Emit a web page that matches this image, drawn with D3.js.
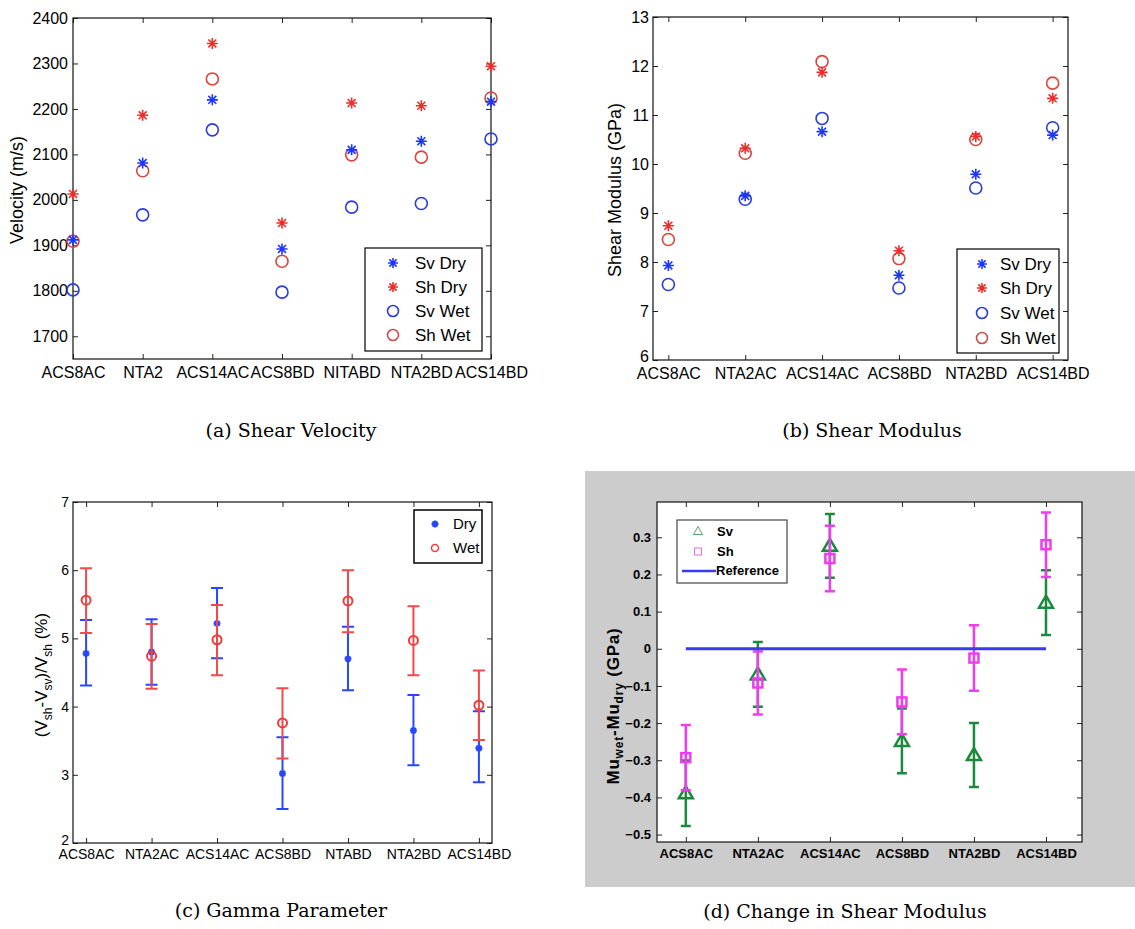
<!DOCTYPE html>
<html>
<head>
<meta charset="utf-8">
<script src="https://cdn.jsdelivr.net/npm/d3@7"></script>
<style>
body { margin: 0; background: #fff; }
</style>
</head>
<body>
<div class="displayArea"></div>
<script>
const width = 1135, height = 929;

// (a) shear velocity (m/s)
var velSamples = ["ACS8AC", "NTA2", "ACS14AC", "ACS8BD", "NITABD", "NTA2BD", "ACS14BD"];
var velSvDry = [1912, 2081, 2220, 1892, 2110, 2129, 2216];
var velShDry = [2013, 2186, 2344, 1949, 2213, 2207, 2294];
var velSvWet = [1802, 1967, 2154, 1797, 1984, 1992, 2134];
var velShWet = [1909, 2064, 2266, 1865, 2099, 2094, 2224];
var velTicks = [1700, 1800, 1900, 2000, 2100, 2200, 2300, 2400];

// (b) shear modulus (GPa)
var modSamples = ["ACS8AC", "NTA2AC", "ACS14AC", "ACS8BD", "NTA2BD", "ACS14BD"];
var modSvDry = [7.93, 9.35, 10.66, 7.73, 9.79, 10.59];
var modShDry = [8.74, 10.32, 11.87, 8.23, 10.56, 11.34];
var modSvWet = [7.54, 9.28, 10.93, 7.47, 9.51, 10.74];
var modShWet = [8.46, 10.22, 12.09, 8.07, 10.50, 11.65];
var modTicks = [6, 7, 8, 9, 10, 11, 12, 13];

// (c) gamma parameter (%)
var gamSamples = ["ACS8AC", "NTA2AC", "ACS14AC", "ACS8BD", "NTABD", "NTA2BD", "ACS14BD"];
var gamDry = [4.78, 4.80, 5.22, 3.02, 4.70, 3.65, 3.39];
var gamDryLo = [4.31, 4.32, 4.71, 2.50, 4.24, 3.14, 2.89];
var gamDryHi = [5.27, 5.28, 5.74, 3.55, 5.17, 4.17, 3.93];
var gamWet = [5.56, 4.74, 4.98, 3.76, 5.55, 4.97, 4.02];
var gamWetLo = [5.08, 4.26, 4.46, 3.24, 5.09, 4.46, 3.51];
var gamWetHi = [6.03, 5.21, 5.49, 4.27, 6.00, 5.47, 4.53];
var gamTicks = [2, 3, 4, 5, 6, 7];

// (d) change in shear modulus (GPa)
var chgSamples = ["ACS8AC", "NTA2AC", "ACS14AC", "ACS8BD", "NTA2BD", "ACS14BD"];
var chgSv = [-0.389, -0.069, 0.277, -0.248, -0.286, 0.124];
var chgSvErr = [0.088, 0.087, 0.086, 0.087, 0.086, 0.087];
var chgSh = [-0.293, -0.092, 0.243, -0.143, -0.025, 0.280];
var chgShErr = [0.088, 0.085, 0.088, 0.087, 0.088, 0.087];
var chgTicks = [-0.5, -0.4, -0.3, -0.2, -0.1, 0, 0.1, 0.2, 0.3];

var sans = "Liberation Sans, Arial, sans-serif";

var svg = d3.select(".displayArea")
    .append("svg")
    .attr("width", width)
    .attr("height", height)
    .style("display", "block");

// matlab style '*' marker
function starPath(r) {
    var a = r * 0.72;
    return `M${-r},0L${r},0M0,${-r}L0,${r}M${-a},${-a}L${a},${a}M${-a},${a}L${a},${-a}`;
}

// box with inward ticks on all four sides
function frame(g, x, y, xVals, xFmt, yVals, yFmt, o) {
    var [x0, x1] = x.range(), [y0, y1] = y.range();
    g.append("rect")
        .attr("x", x0).attr("y", y1)
        .attr("width", x1 - x0).attr("height", y0 - y1)
        .attr("fill", "#fff");

    var axes = [
        [d3.axisBottom(x).tickValues(xVals).tickFormat(xFmt).tickPadding(o.xPad), `translate(0,${y0})`],
        [d3.axisTop(x).tickValues(xVals).tickFormat(""), `translate(0,${y1})`],
        [d3.axisLeft(y).tickValues(yVals).tickFormat(yFmt).tickPadding(o.yPad), `translate(${x0},0)`],
        [d3.axisRight(y).tickValues(yVals).tickFormat(""), `translate(${x1},0)`]
    ];
    axes.forEach(function (a, k) {
        var ax = g.append("g")
            .attr("transform", a[1])
            .call(a[0].tickSize(-o.tick).tickSizeOuter(0));
        ax.select(".domain").remove();
        ax.selectAll("line").attr("stroke", "#222");
        ax.selectAll("text")
            .attr("fill", "#000")
            .style("font-family", sans)
            .style("font-size", o.font + "px")
            .style("font-weight", o.bold ? "bold" : "normal");
        // lowest y label sits just above the corner so it clears the x labels
        if (k == 2 && o.liftLow) ax.selectAll("text").filter(d => d == yVals[0]).attr("dy", "0.1em");
    });

    g.append("rect")
        .attr("x", x0).attr("y", y1)
        .attr("width", x1 - x0).attr("height", y0 - y1)
        .attr("fill", "none")
        .attr("stroke", "#111")
        .attr("stroke-width", 1.2);
}

function caption(txt, cx, cy) {
    svg.append("text")
        .attr("x", cx).attr("y", cy)
        .attr("text-anchor", "middle")
        .style("font-family", "DejaVu Serif, serif")
        .style("font-size", "19px")
        .text(txt);
}

function yTitle(g, cx, cy, font, bold) {
    return g.append("text")
        .attr("transform", `translate(${cx},${cy}) rotate(-90)`)
        .attr("text-anchor", "middle")
        .style("font-family", sans)
        .style("font-size", font + "px")
        .style("font-weight", bold ? "bold" : "normal");
}

// scatter for panels a and b
function scatterPanel(g, x, y, svDry, shDry, svWet, shWet) {
    var sets = [
        [svWet, "circle", "#2a3cd6"],
        [shWet, "circle", "#d9443c"],
        [svDry, "star", "#1b35ff"],
        [shDry, "star", "#ea2e2a"]
    ];
    sets.forEach(function (s) {
        var sel = g.append("g").selectAll("path")
            .data(s[0])
            .enter()
            .append("path")
            .attr("transform", (d, i) => `translate(${x(i)},${y(d)})`)
            .attr("fill", "none")
            .attr("stroke", s[2]);
        if (s[1] == "star") sel.attr("d", starPath(5.5)).attr("stroke-width", 1.6);
        else sel.attr("d", d3.symbol(d3.symbolCircle, Math.PI * 36)).attr("stroke-width", 1.6);
    });
}

function scatterLegend(g, bx, by, bw, bh, rows, mx, tx) {
    g.append("rect")
        .attr("x", bx).attr("y", by).attr("width", bw).attr("height", bh)
        .attr("fill", "#fff").attr("stroke", "#000").attr("stroke-width", 1.2);
    var items = [
        ["Sv Dry", "star", "#1b35ff"],
        ["Sh Dry", "star", "#ea2e2a"],
        ["Sv Wet", "circle", "#2a3cd6"],
        ["Sh Wet", "circle", "#c9504a"]
    ];
    items.forEach(function (it, i) {
        var m = g.append("path")
            .attr("transform", `translate(${mx},${rows[i]})`)
            .attr("fill", "none")
            .attr("stroke", it[2])
            .attr("stroke-width", 1.6);
        if (it[1] == "star") m.attr("d", starPath(5));
        else m.attr("d", d3.symbol(d3.symbolCircle, Math.PI * 30));
        g.append("text")
            .attr("x", tx).attr("y", rows[i] + 6)
            .style("font-family", sans)
            .style("font-size", "17px")
            .text(it[0]);
    });
}

// ---------- (a) ----------
var ga = svg.append("g");
var xA = d3.scaleLinear().domain([0, 6]).range([73, 491]);
var yA = d3.scaleLinear().domain([1650, 2400]).range([359, 18]);
frame(ga, xA, yA, d3.range(velSamples.length), i => velSamples[i], velTicks, d3.format("d"),
    { tick: 5, xPad: 7.5, yPad: 5, font: 16 });
scatterPanel(ga, xA, yA, velSvDry, velShDry, velSvWet, velShWet);
scatterLegend(ga, 365, 248, 117, 103, [263, 287, 311, 335], 393, 415);
yTitle(ga, 23, 190, 18).text("Velocity (m/s)");
caption("(a) Shear Velocity", 291, 437);

// ---------- (b) ----------
var gb = svg.append("g");
var xB = d3.scaleLinear().domain([-0.2, 5.2]).range([653, 1068]);
var yB = d3.scaleLinear().domain([6, 13]).range([360, 17]);
frame(gb, xB, yB, d3.range(modSamples.length), i => modSamples[i], modTicks, d3.format("d"),
    { tick: 5, xPad: 7.5, yPad: 4, font: 16, liftLow: true });
scatterPanel(gb, xB, yB, modSvDry, modShDry, modSvWet, modShWet);
scatterLegend(gb, 957, 249, 102, 104, [264, 288, 313, 338], 982, 1000);
yTitle(gb, 621, 190, 18).text("Shear Modulus (GPa)");
caption("(b) Shear Modulus", 872, 437);

// ---------- (c) ----------
var gc = svg.append("g");
var xC = d3.scaleLinear().domain([-0.2, 6.2]).range([73, 492]);
var yC = d3.scaleLinear().domain([2, 7]).range([843, 502]);
frame(gc, xC, yC, d3.range(gamSamples.length), i => gamSamples[i], gamTicks, d3.format("d"),
    { tick: 5, xPad: 6, yPad: 4, font: 14, liftLow: true });

function errBars(g, x, y, lo, hi, color, cap, lw) {
    var eb = g.append("g").attr("stroke", color).attr("stroke-width", lw).attr("fill", "none");
    eb.selectAll("path")
        .data(lo)
        .enter()
        .append("path")
        .attr("d", function (d, i) {
            var cx = x(i), ya = y(d), yb = y(hi[i]);
            return `M${cx},${ya}L${cx},${yb}M${cx - cap},${ya}L${cx + cap},${ya}M${cx - cap},${yb}L${cx + cap},${yb}`;
        });
}

errBars(gc, xC, yC, gamDryLo, gamDryHi, "#2747ff", 6, 2);
gc.append("g").selectAll("path")
    .data(gamDry)
    .enter()
    .append("path")
    .attr("transform", (d, i) => `translate(${xC(i)},${yC(d)})`)
    .attr("d", starPath(3.5))
    .attr("stroke", "#2747ff")
    .attr("stroke-width", 2);
errBars(gc, xC, yC, gamWetLo, gamWetHi, "#f24a4a", 6, 2);
gc.append("g").selectAll("circle")
    .data(gamWet)
    .enter()
    .append("circle")
    .attr("cx", (d, i) => xC(i))
    .attr("cy", d => yC(d))
    .attr("r", 4.5)
    .attr("fill", "none")
    .attr("stroke", "#ee3b3b")
    .attr("stroke-width", 2);

gc.append("rect")
    .attr("x", 414).attr("y", 510).attr("width", 68).attr("height", 53)
    .attr("fill", "#fff").attr("stroke", "#000").attr("stroke-width", 1.5);
gc.append("path")
    .attr("transform", "translate(435,524)")
    .attr("d", starPath(3.5))
    .attr("stroke", "#2747ff").attr("stroke-width", 2);
gc.append("circle")
    .attr("cx", 435).attr("cy", 548).attr("r", 3.5)
    .attr("fill", "none").attr("stroke", "#ee3b3b").attr("stroke-width", 1.5);
["Dry", "Wet"].forEach(function (t, i) {
    gc.append("text")
        .attr("x", 453).attr("y", 529 + i * 24)
        .style("font-family", sans)
        .style("font-size", "15px")
        .text(t);
});

var tc = yTitle(gc, 47, 675, 17);
tc.append("tspan").text("(V");
tc.append("tspan").attr("dy", 5).style("font-size", "12px").text("sh");
tc.append("tspan").attr("dy", -5).text("-V");
tc.append("tspan").attr("dy", 5).style("font-size", "12px").text("sv");
tc.append("tspan").attr("dy", -5).text(")/V");
tc.append("tspan").attr("dy", 5).style("font-size", "12px").text("sh");
tc.append("tspan").attr("dy", -5).text(" (%)");
caption("(c) Gamma Parameter", 281, 917);

// ---------- (d) ----------
svg.append("rect")
    .attr("x", 585).attr("y", 471)
    .attr("width", width - 585).attr("height", 416)
    .attr("fill", "#cccccc");

var gd = svg.append("g");
var xD = d3.scaleLinear().domain([0.6, 6.5]).range([657, 1082]);
var yD = d3.scaleLinear().domain([-0.52, 0.395]).range([842, 502]);
frame(gd, xD, yD, d3.range(1, chgSamples.length + 1), i => chgSamples[i - 1], chgTicks, d => d3.format("")(+d.toFixed(1)),
    { tick: 5, xPad: 7, yPad: 6, font: 13, bold: true });

var green = "#1c8a3c", magenta = "#f03cf0";
var svLo = chgSv.map((d, i) => d - chgSvErr[i]), svHi = chgSv.map((d, i) => d + chgSvErr[i]);
var shLo = chgSh.map((d, i) => d - chgShErr[i]), shHi = chgSh.map((d, i) => d + chgShErr[i]);
var xD1 = i => xD(i + 1);

errBars(gd, xD1, yD, svLo, svHi, green, 5, 2.5);
gd.append("g").selectAll("path")
    .data(chgSv)
    .enter()
    .append("path")
    .attr("transform", (d, i) => `translate(${xD1(i)},${yD(d)})`)
    .attr("d", "M0,-7L7,5L-7,5Z")
    .attr("fill", "none")
    .attr("stroke", green)
    .attr("stroke-width", 2.5);

errBars(gd, xD1, yD, shLo, shHi, magenta, 5, 2.5);
gd.append("g").selectAll("rect")
    .data(chgSh)
    .enter()
    .append("rect")
    .attr("x", (d, i) => xD1(i) - 4.5)
    .attr("y", d => yD(d) - 4.5)
    .attr("width", 9).attr("height", 9)
    .attr("fill", "none")
    .attr("stroke", magenta)
    .attr("stroke-width", 2.5);

// zero reference line
gd.append("line")
    .attr("x1", xD1(0)).attr("x2", xD1(chgSamples.length - 1))
    .attr("y1", yD(0)).attr("y2", yD(0))
    .attr("stroke", "#3a3af0")
    .attr("stroke-width", 3);

gd.append("rect")
    .attr("x", 677).attr("y", 520).attr("width", 110).attr("height", 63)
    .attr("fill", "#fff").attr("stroke", "#444").attr("stroke-width", 1.2);
gd.append("path")
    .attr("transform", "translate(698,531)")
    .attr("d", "M0,-4.5L4.5,3.5L-4.5,3.5Z")
    .attr("fill", "none").attr("stroke", "#52a86a").attr("stroke-width", 1);
gd.append("rect")
    .attr("x", 694.5).attr("y", 548).attr("width", 7).attr("height", 7)
    .attr("fill", "none").attr("stroke", "#e070e0").attr("stroke-width", 1);
gd.append("line")
    .attr("x1", 682).attr("x2", 716).attr("y1", 571).attr("y2", 571)
    .attr("stroke", "#3a3af0").attr("stroke-width", 2.5);
["Sv", "Sh", "Reference"].forEach(function (t, i) {
    gd.append("text")
        .attr("x", i == 2 ? 716 : 717).attr("y", 536 + i * 19.7)
        .style("font-family", sans)
        .style("font-size", "13px")
        .style("font-weight", "bold")
        .text(t);
});

var td = yTitle(gd, 619, 706, 17, true)
    .style("letter-spacing", "0.8px");
td.append("tspan").text("Mu");
td.append("tspan").attr("dy", 4).style("font-size", "12px").text("wet");
td.append("tspan").attr("dy", -4).text("-Mu");
td.append("tspan").attr("dy", 4).style("font-size", "12px").text("dry");
td.append("tspan").attr("dy", -4).text(" (GPa)");
caption("(d) Change in Shear Modulus", 845, 918);
</script>
</body>
</html>
